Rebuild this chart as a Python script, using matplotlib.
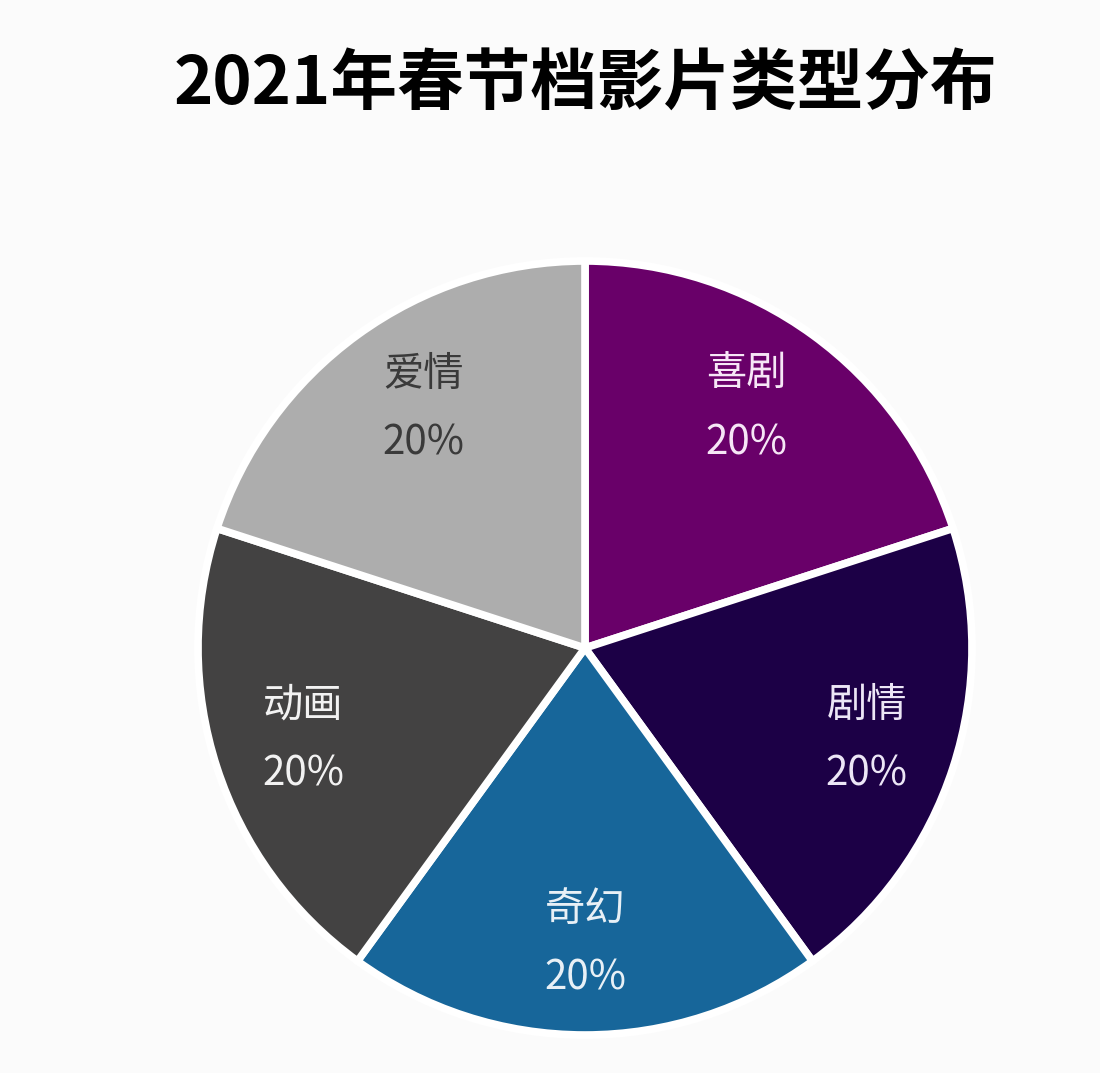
import matplotlib
matplotlib.use("Agg")
import matplotlib.pyplot as plt
import numpy as np

plt.rcParams['font.family'] = ['Noto Sans CJK SC', 'DejaVu Sans']

title = "2021年春节档影片类型分布"
categories = ["喜剧", "剧情", "奇幻", "动画", "爱情"]
shares = [20, 20, 20, 20, 20]
colors = ["#690069", "#1c0046", "#17669a", "#434242", "#adadad"]
text_colors = ["#f6e6f6", "#ece6f6", "#e8f0f6", "#f2f2f2", "#3a3a3a"]

W, H = 1100, 1073
fig = plt.figure(figsize=(W / 100, H / 100), dpi=100)
fig.patch.set_facecolor("#fbfbfb")

cx, cy, r = 585, 648, 387
ax = fig.add_axes([(cx - r) / W, 1 - (cy + r) / H, 2 * r / W, 2 * r / H])
ax.set_facecolor("none")

wedges, _ = ax.pie(shares, colors=colors, startangle=90, counterclock=False,
                   radius=1.0,
                   wedgeprops=dict(edgecolor="white", linewidth=5.5))
ax.set_xlim(-1, 1)
ax.set_ylim(-1, 1)
ax.set_aspect("equal")
ax.axis("off")

for w, name, val, tc in zip(wedges, categories, shares, text_colors):
    ang = np.deg2rad((w.theta1 + w.theta2) / 2)
    rr = 0.765
    x, y = 0.93 * rr * np.cos(ang) if np.sin(ang) > 0.5 else rr * np.cos(ang), rr * np.sin(ang)
    ax.text(x, y + 0.088, name, ha="center", va="center", fontsize=29,
            color=tc)
    ax.text(x, y - 0.088, f"{val}%", ha="center", va="center", fontsize=29,
            color=tc)

fig.text(585 / W, 1 - 85 / H, title, ha="center", va="center",
         fontsize=48, fontweight="bold", color="black")

fig.savefig("out.png", dpi=100, facecolor=fig.get_facecolor())
